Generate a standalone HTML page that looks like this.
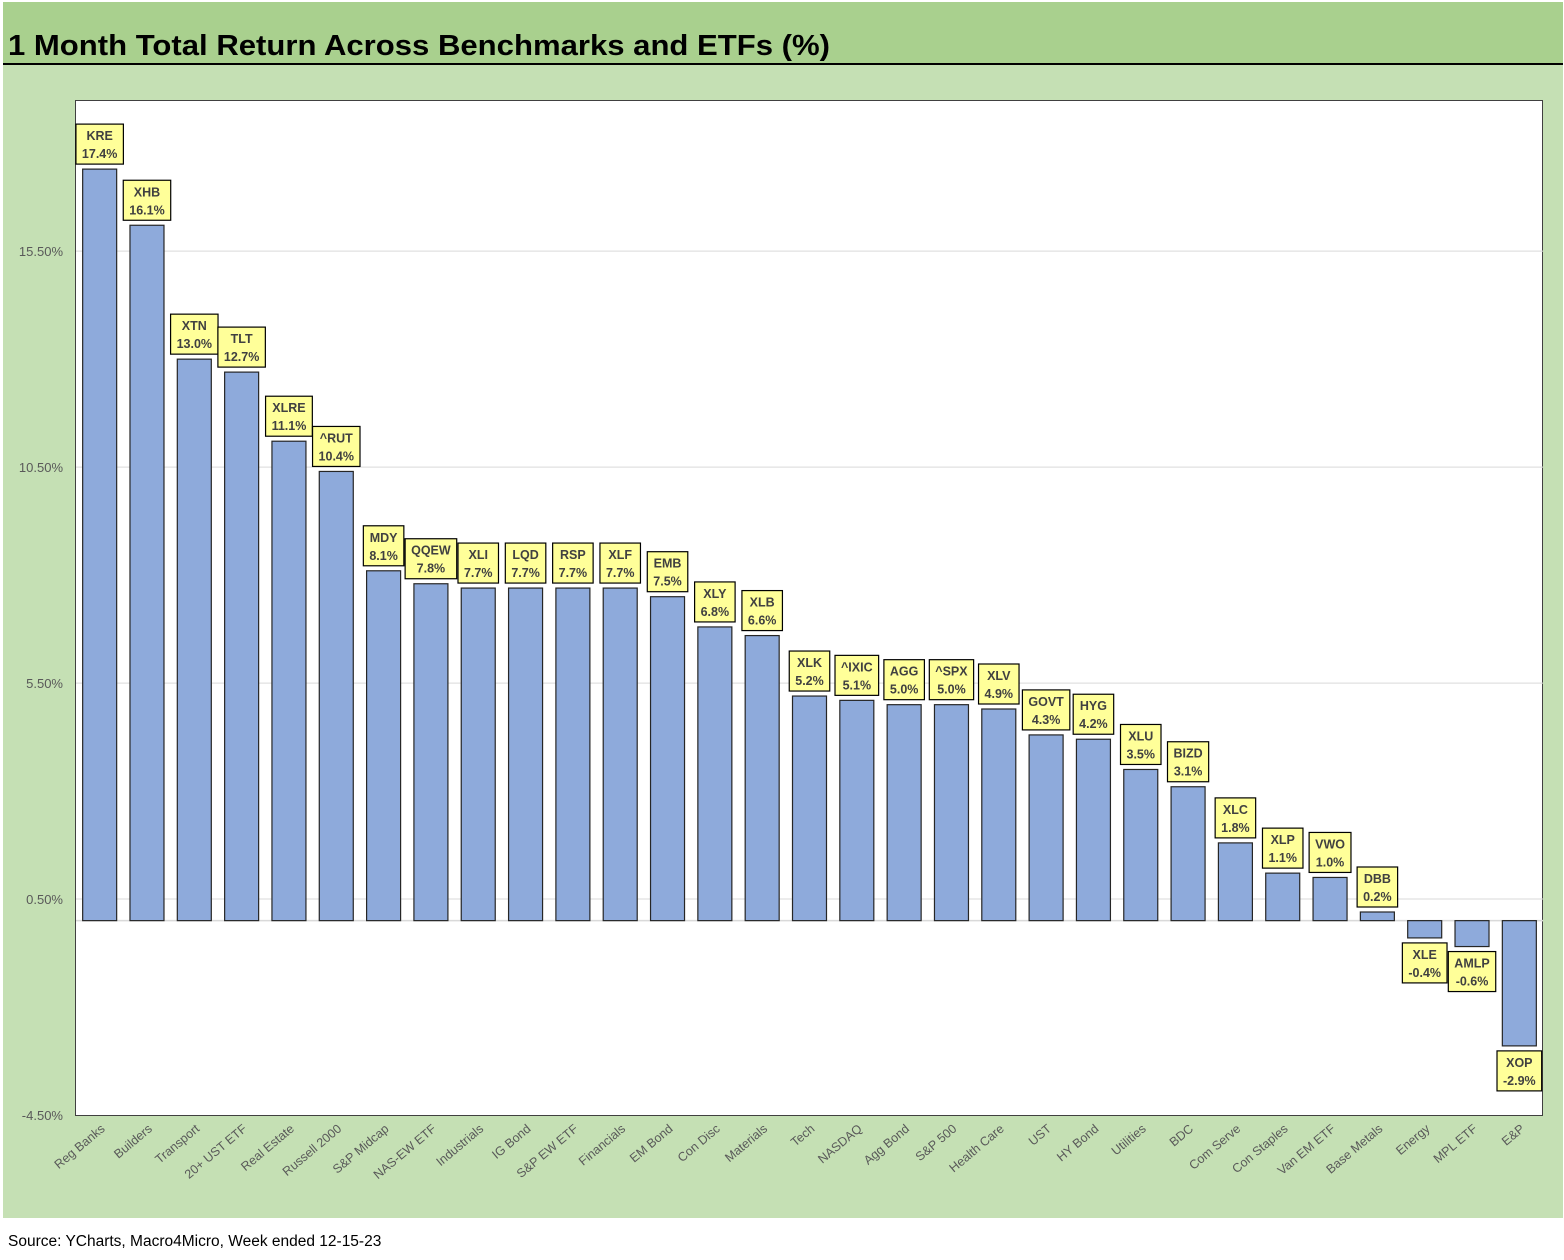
<!DOCTYPE html>
<html><head><meta charset="utf-8"><style>
html,body{margin:0;padding:0;background:#fff;}
svg{display:block;font-family:"Liberation Sans",sans-serif;}
</style></head><body>
<svg id="chart" width="1564" height="1260" viewBox="0 0 1564 1260" xmlns="http://www.w3.org/2000/svg">
<rect x="0" y="0" width="1564" height="1260" fill="#ffffff"/>
<rect x="3" y="2" width="1560" height="62" fill="#a9d08e"/>
<text x="8" y="55" font-size="29" font-weight="bold" fill="#000" textLength="822" lengthAdjust="spacingAndGlyphs">1 Month Total Return Across Benchmarks and ETFs (%)</text>
<rect x="3" y="63" width="1560" height="2" fill="#000"/>
<rect x="3" y="65" width="1560" height="1153" fill="#c5e0b4"/>
<rect x="75.5" y="100.5" width="1467" height="1015" fill="#fff" stroke="#404040" stroke-width="1"/>
<g id="grid"></g><g id="bars"></g><g id="labels"></g><g id="xlabels"></g><g id="yticks"></g>
<text x="8" y="1246" font-size="15.5" fill="#000">Source: YCharts, Macro4Micro, Week ended 12-15-23</text>
</svg>
<script>
const categories=["Reg Banks","Builders","Transport","20+ UST ETF","Real Estate","Russell 2000","S&P Midcap","NAS-EW ETF","Industrials","IG Bond","S&P EW ETF","Financials","EM Bond","Con Disc","Materials","Tech","NASDAQ","Agg Bond","S&P 500","Health Care","UST","HY Bond","Utilities","BDC","Com Serve","Con Staples","Van EM ETF","Base Metals","Energy","MPL ETF","E&P"];
const tickers=["KRE","XHB","XTN","TLT","XLRE","^RUT","MDY","QQEW","XLI","LQD","RSP","XLF","EMB","XLY","XLB","XLK","^IXIC","AGG","^SPX","XLV","GOVT","HYG","XLU","BIZD","XLC","XLP","VWO","DBB","XLE","AMLP","XOP"];
const values=[17.4,16.1,13.0,12.7,11.1,10.4,8.1,7.8,7.7,7.7,7.7,7.7,7.5,6.8,6.6,5.2,5.1,5.0,5.0,4.9,4.3,4.2,3.5,3.1,1.8,1.1,1.0,0.2,-0.4,-0.6,-2.9];
const tickValues=[15.5,10.5,5.5,0.5,-4.5];
const tickLabels=["15.50%","10.50%","5.50%","0.50%","-4.50%"];

const NS="http://www.w3.org/2000/svg";
const PL=76,PR=1543,PT=100,PB=1115,YMIN=-4.5,YMAX=19.0;
const y=v=>PB-(v-YMIN)/(YMAX-YMIN)*(PB-PT);
const step=(PR-PL)/categories.length;
const xc=i=>PL+step*(i+0.5);
function mk(tag,attrs,parent){const e=document.createElementNS(NS,tag);for(const k in attrs)e.setAttribute(k,attrs[k]);parent.appendChild(e);return e;}
const grid=document.getElementById('grid'),bars=document.getElementById('bars'),labels=document.getElementById('labels'),xl=document.getElementById('xlabels'),yt=document.getElementById('yticks');
tickValues.forEach((t,i)=>{
  if(t>YMIN){const g=mk('line',{x1:PL,x2:PR,y1:y(t),y2:y(t),stroke:'#d9d9d9','stroke-width':1},grid);
  
  }
  const tx=mk('text',{x:63,y:y(t)+5,'text-anchor':'end','font-size':13,fill:'#595959'},yt);
  tx.textContent=tickLabels[i];
  
  
});
const zl=mk('line',{x1:PL,x2:PR,y1:y(0),y2:y(0),stroke:'#d9d9d9','stroke-width':1.5},grid);


const BW=34;
values.forEach((v,i)=>{
  const cx=xc(i),y0=y(0),yv=y(v);
  const r=mk('rect',{x:cx-BW/2,y:Math.min(y0,yv),width:BW,height:Math.abs(yv-y0),fill:'#8eaadb',stroke:'#262626','stroke-width':1.2},bars);
  
  
  const g=mk('g',{},labels);
  
  
  const t1=mk('text',{x:cx,'text-anchor':'middle','font-size':12.5,'font-weight':'bold',fill:'#404040'},g);t1.textContent=tickers[i];
  const t2=mk('text',{x:cx,'text-anchor':'middle','font-size':12.5,'font-weight':'bold',fill:'#404040'},g);t2.textContent=v.toFixed(1)+'%';
  const w=Math.max(t1.getComputedTextLength(),t2.getComputedTextLength())+12;
  const H=40;const top=v>=0?yv-5-H:yv+5;
  t1.setAttribute('y',top+16);t2.setAttribute('y',top+34);
  const b=mk('rect',{x:cx-w/2,y:top,width:w,height:H,fill:'#ffff99',stroke:'#000','stroke-width':1.2},g);
  g.insertBefore(b,t1);
  const xt=mk('text',{x:cx+6,y:1130,'text-anchor':'end','font-size':12.5,fill:'#595959',transform:`rotate(-40 ${cx+6} 1130)`},xl);
  xt.textContent=categories[i];
  
  
});
</script>
</body></html>
